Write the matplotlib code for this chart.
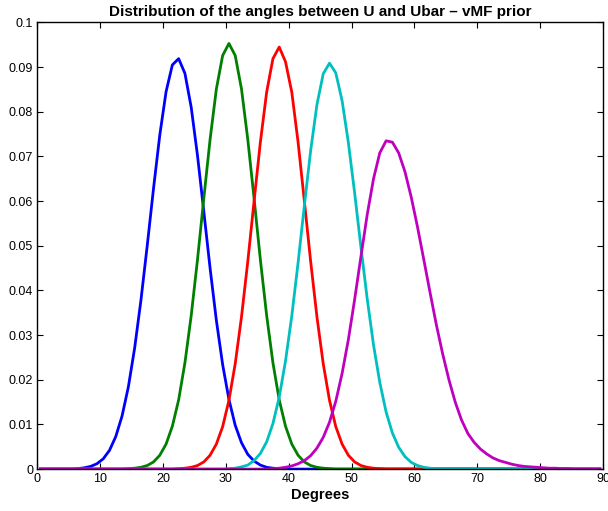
import matplotlib
matplotlib.use("Agg")
from matplotlib import pyplot as plt
import numpy as np

plt.rcParams['font.family'] = ['Liberation Sans', 'DejaVu Sans']

# bin centres, degrees
degrees = np.arange(90) + 0.5

# values, listed from the start bin upward; everything else is zero
blue_start = 6.5
blue = [0.0001, 0.0003, 0.0006, 0.0012, 0.0023, 0.0042, 0.0073, 0.0119, 0.0184, 0.0271,
        0.0378, 0.0500, 0.0628, 0.0748, 0.0845, 0.0905, 0.0919, 0.0886, 0.0810, 0.0702,
        0.0577, 0.0450, 0.0333, 0.0234, 0.0156, 0.0098, 0.0059, 0.0033, 0.0018, 0.0009,
        0.0004, 0.0002, 0.0001]

green_start = 14.5
green = [0.0001, 0.0002, 0.0004, 0.0008, 0.0016, 0.0031, 0.0056, 0.0096, 0.0155, 0.0238,
         0.0344, 0.0469, 0.0606, 0.0738, 0.0851, 0.0926, 0.0953, 0.0926, 0.0851, 0.0738,
         0.0606, 0.0469, 0.0344, 0.0238, 0.0155, 0.0096, 0.0056, 0.0031, 0.0016, 0.0008,
         0.0004, 0.0002, 0.0001]

red_start = 22.5
red = [0.0001, 0.0002, 0.0004, 0.0008, 0.0016, 0.0031, 0.0056, 0.0095, 0.0154, 0.0236,
       0.0341, 0.0465, 0.0600, 0.0732, 0.0844, 0.0919, 0.0945, 0.0912, 0.0844, 0.0732,
       0.0600, 0.0465, 0.0341, 0.0236, 0.0154, 0.0095, 0.0056, 0.0031, 0.0016, 0.0008,
       0.0004, 0.0002, 0.0001]

cyan_start = 30.5
cyan = [0.0001, 0.0002, 0.0005, 0.0009, 0.0019, 0.0035, 0.0061, 0.0102, 0.0161, 0.0242,
        0.0343, 0.0462, 0.0590, 0.0713, 0.0816, 0.0885, 0.0909, 0.0887, 0.0825, 0.0731,
        0.0618, 0.0497, 0.0381, 0.0278, 0.0194, 0.0128, 0.0081, 0.0049, 0.0028, 0.0015,
        0.0008, 0.0004, 0.0002, 0.0001]

magenta_start = 37.5
magenta = [0.0001, 0.0002, 0.0004, 0.0007, 0.0012, 0.0019, 0.0030, 0.0047, 0.0071, 0.0105,
           0.0152, 0.0214, 0.0290, 0.0380, 0.0476, 0.0570, 0.0650, 0.0708, 0.0735, 0.0732,
           0.0708, 0.0666, 0.0609, 0.0542, 0.0469, 0.0395, 0.0323, 0.0258, 0.0200, 0.0150,
           0.0110, 0.0080, 0.0060, 0.0045, 0.0034, 0.0025, 0.0019, 0.0015, 0.0011, 0.0008,
           0.0006, 0.0005, 0.0004, 0.0003, 0.0002, 0.0002, 0.0001, 0.0001]

curves = [(blue_start, blue, (0, 0, 1)),
          (green_start, green, (0, 0.5, 0)),
          (red_start, red, (1, 0, 0)),
          (cyan_start, cyan, (0, 0.75, 0.75)),
          (magenta_start, magenta, (0.75, 0, 0.75))]

fig = plt.figure(figsize=(6.08, 5.11), dpi=100)
ax = fig.add_axes([0.0612, 0.082, 0.9305, 0.874])

for start, vals, col in curves:
    y = np.zeros(len(degrees))
    i0 = int(start - 0.5)
    y[i0:i0 + len(vals)] = vals
    ax.plot(degrees, y, color=col, linewidth=2)

ax.set_xlim(0, 90)
ax.set_ylim(0, 0.1)
ax.set_xticks(np.arange(0, 91, 10))
ax.set_yticks(np.arange(0, 0.101, 0.01))
ax.set_yticklabels(["0", "0.01", "0.02", "0.03", "0.04", "0.05", "0.06", "0.07", "0.08", "0.09", "0.1"])
ax.tick_params(direction="in", top=True, right=True, length=4, labelsize=9, pad=3)
for s in ax.spines.values():
    s.set_linewidth(1)

ax.set_title("Distribution of the angles between U and Ubar \u2013 vMF prior",
             fontsize=11, fontweight="bold", pad=5)
ax.set_xlabel("Degrees", fontsize=10.5, fontweight="bold", labelpad=2)

fig.savefig("out.png", dpi=100)
